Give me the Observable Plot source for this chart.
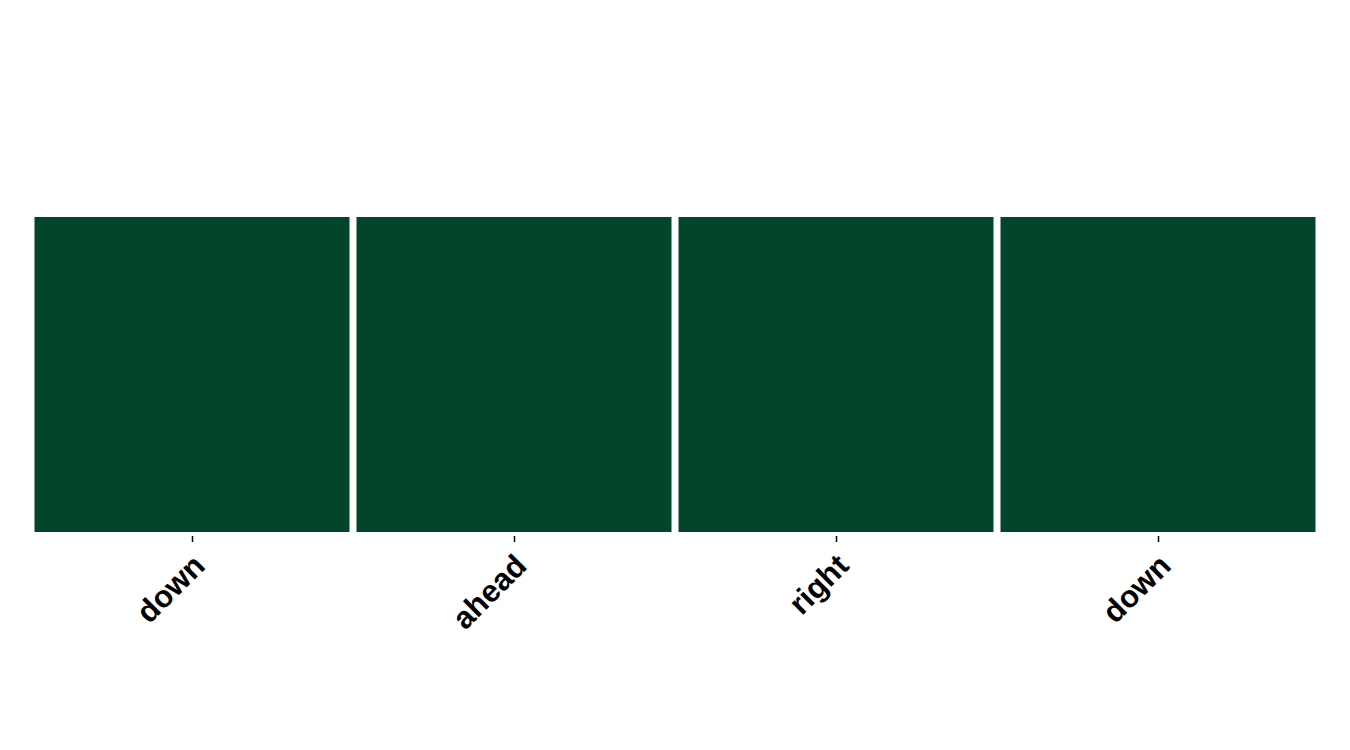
<!DOCTYPE html>
<html>
<head>
<meta charset="utf-8">
<script src="https://cdn.jsdelivr.net/npm/d3@7"></script>
<script src="https://cdn.jsdelivr.net/npm/@observablehq/plot@0.6"></script>
<style>
  html, body { margin: 0; padding: 0; background: #fff; }
  #chart svg { display: block; }
</style>
</head>
<body>
<div id="chart"></div>
<script>
const labels = ["down", "ahead", "right", "down"];
const values = [1, 1, 1, 1];
const row = ["row"];

const data = labels.map((label, i) => ({ i, label, row: row[0], value: values[i] }));

const chart = Plot.plot({
  width: 1350,
  height: 750,
  marginLeft: 31,
  marginRight: 31,
  marginTop: 213,
  marginBottom: 214,
  style: { fontFamily: "Liberation Sans, Arial, sans-serif", background: "#fff", color: "#000" },
  x: {
    domain: d3.range(labels.length),
    padding: 0,
    label: null
  },
  y: { domain: row, axis: null, padding: 0, label: null },
  color: { type: "linear", domain: [0, 1], range: ["#03452b", "#03452b"] },
  marks: [
    Plot.cell(data, { x: "i", y: "row", fill: "value", inset: 3.5, insetTop: 4, insetBottom: 4 }),
    Plot.axisX({ ticks: d3.range(labels.length), text: null, tickSize: 6, stroke: "#000", strokeWidth: 1.5, label: null }),
    Plot.axisX({ ticks: d3.range(labels.length), tickFormat: (d) => labels[d], tickRotate: -45, tickSize: 0, tickPadding: 8, dx: 7, dy: 16, fontSize: 31, fontWeight: "bold", fill: "#000", label: null })
  ]
});
document.getElementById("chart").appendChild(chart);
</script>
</body>
</html>
